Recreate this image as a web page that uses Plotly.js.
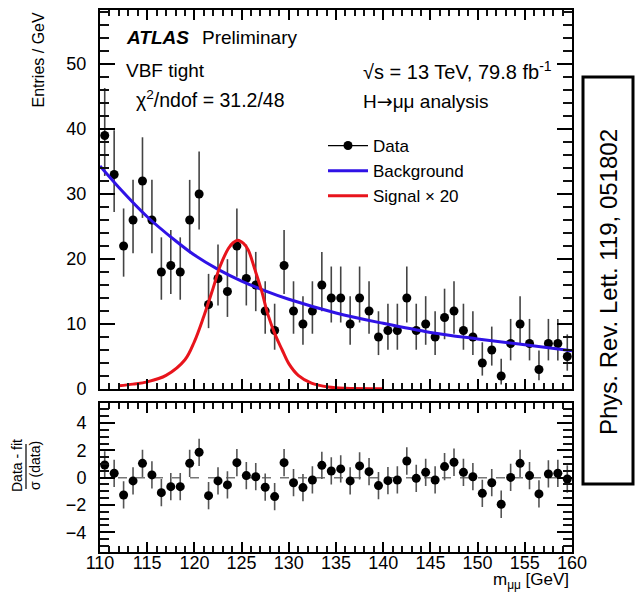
<!DOCTYPE html>
<html>
<head>
<meta charset="utf-8">
<script src="https://cdn.plot.ly/plotly-3.0.1.min.js"></script>
<style>html,body{margin:0;padding:0;background:#fff;}#chart{width:635px;height:598px;}</style>
</head>
<body>
<div id="chart"></div>
<script>
// ---- data ----
var binCenters = [110.5,111.5,112.5,113.5,114.5,115.5,116.5,117.5,118.5,119.5,
                  120.5,121.5,122.5,123.5,124.5,125.5,126.5,127.5,128.5,129.5,
                  130.5,131.5,132.5,133.5,134.5,135.5,136.5,137.5,138.5,139.5,
                  140.5,141.5,142.5,143.5,144.5,145.5,146.5,147.5,148.5,149.5,
                  150.5,151.5,152.5,153.5,154.5,155.5,156.5,157.5,158.5,159.5];
var entries = [39,33,22,26,32,26,18,19,18,26,
               30,13,17,15,22,17,16,12,9,19,
               12,10,12,16,14,14,10,14,12,8,
               9,9,14,9,10,8,11,12,9,8,
               4,6,2,7,10,7,3,7,7,5];
var errUp = [7.30,6.81,5.77,6.17,6.72,6.17,5.33,5.45,5.33,6.17,
             6.55,4.71,5.21,4.97,5.77,5.21,5.09,4.57,4.12,5.45,
             4.57,4.28,4.57,5.09,4.84,4.84,4.28,4.84,4.57,3.96,
             4.12,4.12,4.84,4.12,4.28,3.96,4.43,4.57,4.12,3.96,
             3.18,3.60,2.66,3.78,4.28,3.78,2.94,3.78,3.78,3.40];
var errDn = [6.23,5.77,4.72,5.12,5.68,5.12,4.27,4.39,4.27,5.12,
             5.45,3.64,4.15,3.91,4.72,4.15,4.03,3.50,2.96,4.39,
             3.50,3.20,3.50,4.03,3.77,3.77,3.20,3.77,3.50,2.78,
             2.96,2.96,3.77,2.96,3.20,2.78,3.35,3.50,2.96,2.78,
             1.94,2.40,1.32,2.60,3.20,2.60,1.66,2.60,2.60,2.18];
var bgMass = [110,112,115,118,120,122.5,125,127.5,130,135,140,145,150,155,160];
var bgValue = [34.3,31.0,26.5,22.8,20.6,18.4,16.6,15.1,13.8,11.7,10.1,8.7,7.7,6.8,5.9];
var sigMass = [112,113.5,115,117,119,120,121,122,122.7,123.6,124.1,124.6,125.2,125.7,126.4,127.1,127.8,128.6,129.3,130,131,132.4,134.2,136,140];
var sigValue = [0.5,0.75,1.1,2.1,4.5,7.3,11.2,15.6,18.8,21.6,22.5,22.9,22.4,21.4,18.4,15.2,11.4,8.2,6.0,3.9,2.1,0.9,0.3,0.1,0.05];
var pull = [0.93,0.32,-1.27,-0.24,1.05,0.2,-1.1,-0.66,-0.66,1.05,
            1.86,-1.32,-0.24,-0.53,1.1,0.15,0.07,-0.7,-1.39,1.1,
            -0.37,-0.73,-0.17,0.9,0.49,0.64,-0.24,0.86,0.44,-0.58,
            -0.22,-0.17,1.22,-0.05,0.39,-0.17,0.81,1.13,0.39,0.07,
            -1.15,-0.37,-1.95,0.02,1.05,0.15,-1.19,0.27,0.32,-0.1];
var pullErr = 1;
var xTicks = [110,115,120,125,130,135,140,145,150,155,160];
var xMinorTicks = [111,112,113,114,116,117,118,119,121,122,123,124,126,127,128,129,
                   131,132,133,134,136,137,138,139,141,142,143,144,146,147,148,149,
                   151,152,153,154,156,157,158,159];
var yTopMinorTicks = [2,4,6,8,12,14,16,18,22,24,26,28,32,34,36,38,42,44,46,48,52,54,56,58];
var yBotMinorTicks = [-5,-4.5,-3.5,-3,-2.5,-1.5,-1,-0.5,0.5,1,1.5,2.5,3,3.5,4.5,5];

var FONT = 'Liberation Sans, Arial, Helvetica, sans-serif';
var BLUE = '#2f12e6', RED = '#e8141c';

var traces = [
  {x: binCenters, y: entries, type:'scatter', mode:'markers', showlegend:false,
   xaxis:'x', yaxis:'y',
   marker:{color:'black', size:9},
   error_y:{type:'data', symmetric:false, array:errUp, arrayminus:errDn, color:'#444', thickness:1.6, width:0}},
  {x:[null], y:[null], type:'scatter', mode:'lines+markers', name:'Data',
   xaxis:'x', yaxis:'y', line:{color:'black', width:1.2}, marker:{color:'black', size:9}},
  {x: bgMass, y: bgValue, type:'scatter', mode:'lines', name:'Background',
   xaxis:'x', yaxis:'y', line:{color:BLUE, width:3, shape:'spline'}},
  {x: sigMass, y: sigValue, type:'scatter', mode:'lines', name:'Signal \u00d7 20',
   xaxis:'x', yaxis:'y', line:{color:RED, width:3, shape:'spline'}},
  {x: binCenters, y: pull, type:'scatter', mode:'markers', showlegend:false,
   xaxis:'x2', yaxis:'y2',
   marker:{color:'black', size:9},
   error_y:{type:'constant', value:pullErr, color:'#555', thickness:1.6, width:0}},
  // off-range placeholders that attach the minor-tick overlay axes
  {x:[115], y:[-100], xaxis:'x3', yaxis:'y', showlegend:false, hoverinfo:'skip', mode:'markers'},
  {x:[-100], y:[10], xaxis:'x', yaxis:'y3', showlegend:false, hoverinfo:'skip', mode:'markers'},
  {x:[115], y:[-100], xaxis:'x4', yaxis:'y2', showlegend:false, hoverinfo:'skip', mode:'markers'},
  {x:[-100], y:[0], xaxis:'x2', yaxis:'y4', showlegend:false, hoverinfo:'skip', mode:'markers'}
];

function px2x(p){ return (p-100)/472; }
function py2y(p){ return (552-p)/542; }

var axCommon = {showline:true, linecolor:'black', linewidth:2, mirror:'ticks',
  ticks:'inside', tickcolor:'black', tickwidth:2, zeroline:false, showgrid:false,
  tickfont:{family:FONT, size:18, color:'black'}};
var minorCommon = {showline:false, mirror:'ticks', ticks:'inside', tickcolor:'#111', tickwidth:2,
  zeroline:false, showgrid:false, showticklabels:false, tickmode:'array'};

var topY = [py2y(389), 1], botY = [0, py2y(403.3)];
var xRange = [110,160], yTopRange = [0,58.3], yBotRange = [-5.45,5.45];

var layout = {
  width:635, height:598,
  margin:{l:100, r:63, t:10, b:46},
  paper_bgcolor:'white', plot_bgcolor:'white',
  font:{family:FONT, color:'black'},
  showlegend:true,
  legend:{x:px2x(323), y:py2y(128), xanchor:'left', yanchor:'top',
    bgcolor:'rgba(0,0,0,0)', font:{family:FONT, size:17, color:'black'},
    itemwidth:40, tracegroupgap:0, traceorder:'normal'},
  xaxis: Object.assign({}, axCommon, {domain:[0,1], anchor:'y', range:xRange,
    tickvals:xTicks, showticklabels:false, ticklen:10}),
  yaxis: Object.assign({}, axCommon, {domain:topY, anchor:'x', range:yTopRange,
    dtick:10, tick0:0, ticklen:15, ticklabelstandoff:8}),
  xaxis2: Object.assign({}, axCommon, {domain:[0,1], anchor:'y2', range:xRange,
    tickvals:xTicks, ticklen:10, ticklabelstandoff:-7}),
  yaxis2: Object.assign({}, axCommon, {domain:botY, anchor:'x2', range:yBotRange,
    tickvals:[-4,-2,0,2,4], ticklen:15, ticklabelstandoff:8}),
  xaxis3: Object.assign({}, minorCommon, {overlaying:'x', anchor:'y', range:xRange, tickvals:xMinorTicks, ticklen:6}),
  yaxis3: Object.assign({}, minorCommon, {overlaying:'y', anchor:'x', range:yTopRange, tickvals:yTopMinorTicks, ticklen:9}),
  xaxis4: Object.assign({}, minorCommon, {overlaying:'x2', anchor:'y2', range:xRange, tickvals:xMinorTicks, ticklen:6}),
  yaxis4: Object.assign({}, minorCommon, {overlaying:'y2', anchor:'x2', range:yBotRange, tickvals:yBotMinorTicks, ticklen:9}),
  shapes:[
    {type:'line', xref:'x2', yref:'y2', x0:110, x1:160, y0:0, y1:0,
     line:{color:'#777', width:1.5, dash:'dash'}, layer:'below'},
    {type:'rect', xref:'paper', yref:'paper', x0:px2x(583), x1:px2x(633), y0:py2y(484), y1:py2y(77),
     line:{color:'black', width:3}, fillcolor:'rgba(0,0,0,0)'},
    {type:'line', xref:'paper', yref:'paper', x0:px2x(26), x1:px2x(26), y0:py2y(444), y1:py2y(489),
     line:{color:'black', width:1.2}}
  ],
  annotations:[
    {xref:'paper', yref:'paper', x:px2x(124), y:py2y(38), xanchor:'left', yanchor:'middle', showarrow:false,
     text:'<b><i>ATLAS</i></b>', font:{family:FONT, size:19}},
    {xref:'paper', yref:'paper', x:px2x(200), y:py2y(38), xanchor:'left', yanchor:'middle', showarrow:false,
     text:'Preliminary', font:{family:FONT, size:19}},
    {xref:'paper', yref:'paper', x:px2x(124), y:py2y(70), xanchor:'left', yanchor:'middle', showarrow:false,
     text:'VBF tight', font:{family:FONT, size:19}},
    {xref:'paper', yref:'paper', x:px2x(134), y:py2y(99), xanchor:'left', yanchor:'middle', showarrow:false,
     text:'\u03c7<sup>2</sup>/ndof = 31.2/48', font:{family:FONT, size:19.5}},
    {xref:'paper', yref:'paper', x:px2x(361), y:py2y(70), xanchor:'left', yanchor:'middle', showarrow:false,
     text:'\u221as = 13 TeV, 79.8 fb<sup>-1</sup>', font:{family:FONT, size:20}},
    {xref:'paper', yref:'paper', x:px2x(361), y:py2y(101), xanchor:'left', yanchor:'middle', showarrow:false,
     text:'H<span style="font-family:DejaVu Sans">\u2192</span>\u03bc\u03bc analysis', font:{family:FONT, size:19}},
    {xref:'paper', yref:'paper', x:px2x(38), y:py2y(10), xanchor:'center', yanchor:'top', showarrow:false,
     textangle:-90, text:'Entries / GeV', font:{family:FONT, size:16}},
    {xref:'paper', yref:'paper', x:px2x(17), y:py2y(466), xanchor:'center', yanchor:'middle', showarrow:false,
     textangle:-90, text:'Data - fit', font:{family:FONT, size:14}},
    {xref:'paper', yref:'paper', x:px2x(35), y:py2y(466), xanchor:'center', yanchor:'middle', showarrow:false,
     textangle:-90, text:'\u03c3 (data)', font:{family:FONT, size:14}},
    {xref:'paper', yref:'paper', x:px2x(571), y:py2y(581), xanchor:'right', yanchor:'middle', showarrow:false,
     text:'m<sub>\u03bc\u03bc</sub> [GeV]', font:{family:FONT, size:17}},
    {xref:'paper', yref:'paper', x:px2x(608), y:py2y(282), xanchor:'center', yanchor:'middle', showarrow:false,
     textangle:-90, text:'Phys. Rev. Lett. 119, 051802', font:{family:FONT, size:24}}
  ]
};

Plotly.newPlot('chart', traces, layout, {staticPlot:true, displayModeBar:false});
</script>
</body>
</html>
